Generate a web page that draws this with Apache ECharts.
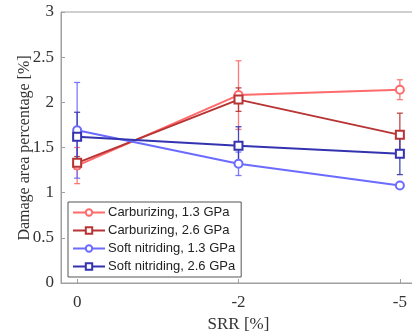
<!DOCTYPE html>
<html>
<head>
<meta charset="utf-8">
<script src="https://cdn.jsdelivr.net/npm/echarts@6/dist/echarts.min.js"></script>
<style>
  html, body { margin: 0; padding: 0; background: #fff; }
  #chart { width: 412px; height: 332px; }
</style>
</head>
<body>
<div id="chart"></div>
<script>
const srrLabels = ["0", "-2", "-5"];
const srrPos = [0, 1, 2];

const carb13 = [1.30, 2.08, 2.14];
const carb13Err = [0.20, 0.38, 0.11];
const carb26 = [1.33, 2.03, 1.64];
const carb26Err = [0.07, 0.13, 0.24];
const nit13 = [1.69, 1.32, 1.08];
const nit13Err = [0.53, 0.13, 0.02];
const nit26 = [1.62, 1.52, 1.43];
const nit26Err = [0.27, 0.21, 0.23];

const yTicks = [0, 0.5, 1, 1.5, 2, 2.5, 3];

const SERIF = "'Liberation Serif', 'DejaVu Serif', serif";
const SANS = "'Liberation Sans', Arial, sans-serif";

const groups = [
  { name: "Carburizing, 1.3 GPa", values: carb13, err: carb13Err, color: "#ff6b6b", symbol: "emptyCircle" },
  { name: "Carburizing, 2.6 GPa", values: carb26, err: carb26Err, color: "#b83333", symbol: "emptyRect" },
  { name: "Soft nitriding, 1.3 GPa", values: nit13, err: nit13Err, color: "#6b6bff", symbol: "emptyCircle" },
  { name: "Soft nitriding, 2.6 GPa", values: nit26, err: nit26Err, color: "#3333b0", symbol: "emptyRect" }
];

function errorBarSeries(group) {
  return {
    type: "custom",
    silent: true,
    z: 1,
    data: group.values.map((v, i) => [srrPos[i], v - group.err[i], v + group.err[i]]),
    renderItem: (params, api) => {
      const low = api.coord([api.value(0), api.value(1)]);
      const high = api.coord([api.value(0), api.value(2)]);
      const half = 3;
      const style = { stroke: group.color, lineWidth: 1.3, opacity: 0.9 };
      return {
        type: "group",
        children: [
          { type: "line", shape: { x1: low[0], y1: low[1], x2: high[0], y2: high[1] }, style },
          { type: "line", shape: { x1: low[0] - half, y1: low[1], x2: low[0] + half, y2: low[1] }, style },
          { type: "line", shape: { x1: high[0] - half, y1: high[1], x2: high[0] + half, y2: high[1] }, style }
        ]
      };
    }
  };
}

function lineSeries(group) {
  return {
    type: "line",
    name: group.name,
    z: 2,
    data: group.values.map((v, i) => [srrPos[i], v]),
    symbol: group.symbol,
    symbolSize: 8,
    lineStyle: { color: group.color, width: 2 },
    itemStyle: { color: group.color, borderWidth: 2 }
  };
}

const chart = echarts.init(document.getElementById("chart"), null, { renderer: "canvas" });

chart.setOption({
  animation: false,
  grid: {
    left: 61, right: -4, top: 12, bottom: 49,
    outerBoundsMode: "none",
    containLabel: false,
    show: true, borderColor: "#a0a0a0", borderWidth: 1, backgroundColor: "#fff"
  },
  legend: {
    orient: "vertical",
    left: 68,
    top: 202,
    itemWidth: 32,
    itemHeight: 8,
    itemGap: 5,
    padding: [4, 6, 4, 4],
    borderColor: "#555",
    borderWidth: 1,
    borderRadius: 0,
    backgroundColor: "#fff",
    textStyle: { fontFamily: SANS, fontSize: 13, color: "#222", padding: [0, 0, 0, -2] },
    data: groups.map((g) => g.name)
  },
  xAxis: {
    type: "value",
    min: -0.1,
    max: 2.1,
    name: "SRR [%]",
    nameLocation: "middle",
    nameGap: 31,
    nameTextStyle: { fontFamily: SERIF, fontSize: 17, color: "#333" },
    axisLine: { show: true, onZero: false, lineStyle: { color: "#a0a0a0" } },
    axisTick: { show: true, inside: true, length: 4, customValues: srrPos, lineStyle: { color: "#a0a0a0" } },
    splitLine: { show: false },
    axisLabel: {
      customValues: srrPos,
      margin: 11,
      fontFamily: SERIF,
      fontSize: 17,
      color: "#333",
      formatter: (v) => srrLabels[srrPos.indexOf(Math.round(v))] ?? ""
    }
  },
  yAxis: {
    type: "value",
    min: yTicks[0],
    max: yTicks[yTicks.length - 1],
    interval: 0.5,
    axisLine: { show: true, onZero: false, lineStyle: { color: "#a0a0a0" } },
    axisTick: { show: true, inside: true, length: 4, lineStyle: { color: "#a0a0a0" } },
    splitLine: { show: false },
    axisLabel: { fontFamily: SERIF, fontSize: 17, color: "#333", margin: 7 }
  },
  graphic: [
    {
      type: "text",
      x: 25,
      y: 148,
      rotation: Math.PI / 2,
      style: {
        text: "Damage area percentage [%]",
        fontFamily: SERIF,
        fontSize: 16,
        fill: "#333",
        align: "center",
        verticalAlign: "middle"
      }
    }
  ],
  series: [
    ...groups.map(errorBarSeries),
    ...groups.map(lineSeries)
  ]
});
</script>
</body>
</html>
